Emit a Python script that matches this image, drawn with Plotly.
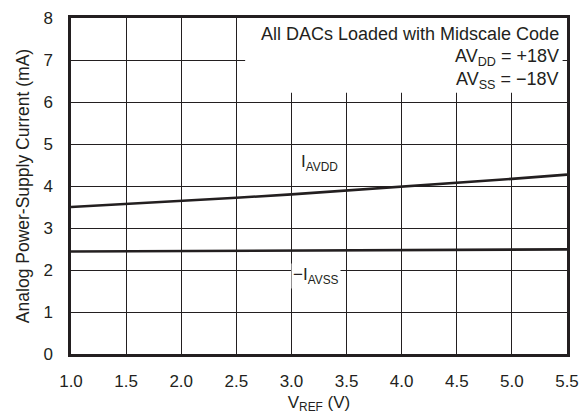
import plotly.graph_objects as go

vref = [1.0, 1.5, 2.0, 2.5, 3.0, 3.5, 4.0, 4.5, 5.0, 5.5]
i_avdd = [3.50, 3.57, 3.64, 3.72, 3.80, 3.89, 3.98, 4.07, 4.17, 4.27]
i_avss = [2.44, 2.445, 2.45, 2.455, 2.46, 2.465, 2.47, 2.475, 2.48, 2.49]
x_ticks = [1.0, 1.5, 2.0, 2.5, 3.0, 3.5, 4.0, 4.5, 5.0, 5.5]
y_ticks = [0, 1, 2, 3, 4, 5, 6, 7, 8]

FONT = "Liberation Sans, Arial, sans-serif"
TXT = "#231f20"
FS = 17
FA = 18

fig = go.Figure()
fig.add_trace(go.Scatter(x=vref, y=i_avdd, mode="lines",
                         line=dict(color=TXT, width=2.6), showlegend=False))
fig.add_trace(go.Scatter(x=vref, y=i_avss, mode="lines",
                         line=dict(color=TXT, width=2.6), showlegend=False))

# white box behind the condition text (hides gridlines)
fig.add_shape(type="rect", xref="x", yref="y", x0=2.58, x1=5.46, y0=6.22, y1=8,
              fillcolor="white", line=dict(width=0), layer="between")

fig.add_annotation(x=5.45, y=7.63, xref="x", yref="y", xanchor="right", yanchor="middle",
                   text="All DACs Loaded with Midscale Code", showarrow=False,
                   font=dict(family=FONT, size=FA, color=TXT))
fig.add_annotation(x=5.45, y=7.05, xref="x", yref="y", xanchor="right", yanchor="middle",
                   text="AV<sub>DD</sub> = +18V", showarrow=False,
                   font=dict(family=FONT, size=FA, color=TXT))
fig.add_annotation(x=5.45, y=6.52, xref="x", yref="y", xanchor="right", yanchor="middle",
                   text="AV<sub>SS</sub> = \u221218V", showarrow=False,
                   font=dict(family=FONT, size=FA, color=TXT))
fig.add_annotation(x=3.07, y=4.55, xref="x", yref="y", xanchor="left", yanchor="middle",
                   text="I<sub>AVDD</sub>", showarrow=False,
                   font=dict(family=FONT, size=FS, color=TXT))
fig.add_annotation(x=3.0, y=1.85, xref="x", yref="y", xanchor="left", yanchor="middle",
                   text="\u2212I<sub>AVSS</sub>", showarrow=False, bgcolor="white",
                   borderpad=1,
                   font=dict(family=FONT, size=FS, color=TXT))

fig.update_xaxes(range=[1.0, 5.5], tickvals=x_ticks, ticktext=[f"{v:.1f}" for v in x_ticks],
                 showgrid=True, gridcolor=TXT, gridwidth=1.2, zeroline=False,
                 showline=True, linecolor=TXT, linewidth=2.5, mirror=True, ticks="",
                 ticklabelstandoff=10, automargin=False,
                 tickfont=dict(family=FONT, size=FS, color=TXT),
                 title=dict(text="V<sub>REF</sub> (V)", font=dict(family=FONT, size=FS, color=TXT),
                            standoff=6))
fig.update_yaxes(range=[0, 8], tickvals=y_ticks,
                 showgrid=True, gridcolor=TXT, gridwidth=1.2, zeroline=False,
                 showline=True, linecolor=TXT, linewidth=2.5, mirror=True, ticks="",
                 ticklabelstandoff=12, automargin=False,
                 tickfont=dict(family=FONT, size=FS, color=TXT),
                 title=dict(text="Analog Power-Supply Current (mA)",
                            font=dict(family=FONT, size=17.5, color=TXT), standoff=10))

fig.update_layout(width=582, height=415, margin=dict(l=71, r=15, t=18, b=61),
                  plot_bgcolor="white", paper_bgcolor="white", hovermode=False)

fig.write_html("out.html", config={"displayModeBar": False},
               post_script="document.body.style.margin='0';")
